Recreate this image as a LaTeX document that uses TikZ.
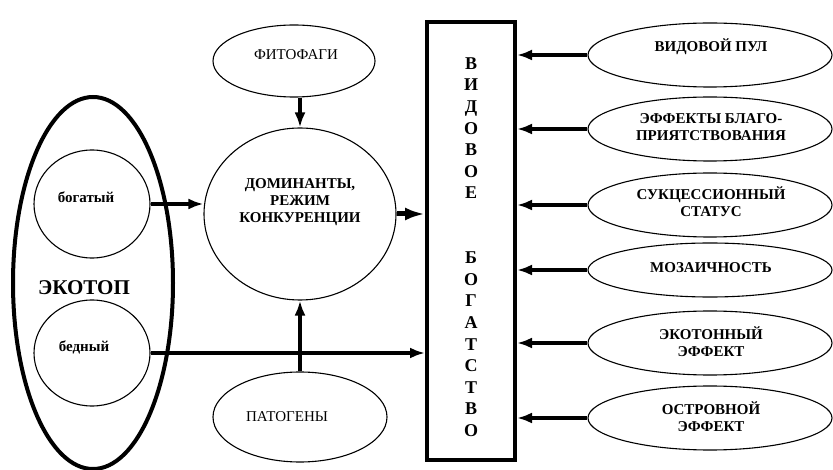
\documentclass[tikz,border=0pt]{standalone}
\usepackage{fontspec}
\setmainfont{Liberation Serif}
\usetikzlibrary{shapes,arrows.meta}
\begin{document}
\begin{tikzpicture}[x=1pt,y=-1pt,inner sep=0pt,
  oval/.style={ellipse,draw=black,line width=1.1pt},
  conn/.style={line width=3.5pt,-{Latex[length=15pt,width=11pt]}},
  boldtext/.style={font=\fontsize{15}{17}\selectfont\bfseries,align=center},
  plaintext/.style={font=\fontsize{15}{17}\selectfont}]
\useasboundingbox (0,0) rectangle (833,470);
% Left Part
\node at (93,283) [ellipse,draw=black,line width=4pt,minimum width=160,minimum height=372] (Ecotop) {};
\node at (92,204) [oval,minimum width=116,minimum height=108] (Rich) {};
\node at (92,353) [oval,minimum width=116,minimum height=106] (Poor) {};
\node at (300,214) [oval,minimum width=192,minimum height=172] (Dom) {};
\node at (294,61) [oval,minimum width=162,minimum height=72] (Phyto) {};
\node at (300,417) [oval,minimum width=174,minimum height=90] (Patho) {};
\node at (471,241) [rectangle,draw=black,line width=4pt,minimum width=88,minimum height=438] (Box) {};
% Right Part
\node at (710,55) [oval,minimum width=244,minimum height=64] (Pool) {};
\node at (710,129) [oval,minimum width=244,minimum height=64] (Favor) {};
\node at (710,205) [oval,minimum width=244,minimum height=64] (Succ) {};
\node at (710,270) [oval,minimum width=244,minimum height=54] (Mosaic) {};
\node at (710,343) [oval,minimum width=244,minimum height=64] (Ecotone) {};
\node at (710,418) [oval,minimum width=244,minimum height=64] (Island) {};
% Node Labels
\node [black,font=\fontsize{21}{24}\selectfont\bfseries] at (84,288) {ЭКОТОП};
\node [black,boldtext] at (86,197) {богатый};
\node [black,boldtext] at (84,347) {бедный};
\node [black,plaintext] at (296,55) {ФИТОФАГИ};
\node [black,plaintext] at (287,417) {ПАТОГЕНЫ};
\node [black,boldtext] at (300,202) {ДОМИНАНТЫ,\\РЕЖИМ\\КОНКУРЕНЦИИ};
\node [black,align=center,font=\fontsize{18}{21.6}\selectfont\bfseries] at (471,247)
  {В\\И\\Д\\О\\В\\О\\Е\\[43.2pt]Б\\О\\Г\\А\\Т\\С\\Т\\В\\О};
\node [black,boldtext] at (711,47) {ВИДОВОЙ ПУЛ};
\node [black,boldtext] at (711,127) {ЭФФЕКТЫ БЛАГО-\\ПРИЯТСТВОВАНИЯ};
\node [black,boldtext] at (711,202) {СУКЦЕССИОННЫЙ\\СТАТУС};
\node [black,boldtext] at (711,268) {МОЗАИЧНОСТЬ};
\node [black,boldtext] at (711,342) {ЭКОТОННЫЙ\\ЭФФЕКТ};
\node [black,boldtext] at (711,417) {ОСТРОВНОЙ\\ЭФФЕКТ};
% Node Connections
\draw [conn] (Rich.east) -- (Rich.east -| Dom.west);
\draw [conn] (Poor.east) -- (Poor.east -| Box.west);
\draw [conn,line width=5pt,-{Latex[length=20pt,width=13pt]}] (Dom.east) -- (Dom.east -| Box.west);
\draw [conn] (Dom.north |- Phyto.south) -- (Dom.north);
\draw [conn] (Patho.north) -- (Dom.south);
\draw [conn] (Pool.west) -- (Pool.west -| Box.east);
\draw [conn] (Favor.west) -- (Favor.west -| Box.east);
\draw [conn] (Succ.west) -- (Succ.west -| Box.east);
\draw [conn] (Mosaic.west) -- (Mosaic.west -| Box.east);
\draw [conn] (Ecotone.west) -- (Ecotone.west -| Box.east);
\draw [conn] (Island.west) -- (Island.west -| Box.east);
\end{tikzpicture}
\end{document}
